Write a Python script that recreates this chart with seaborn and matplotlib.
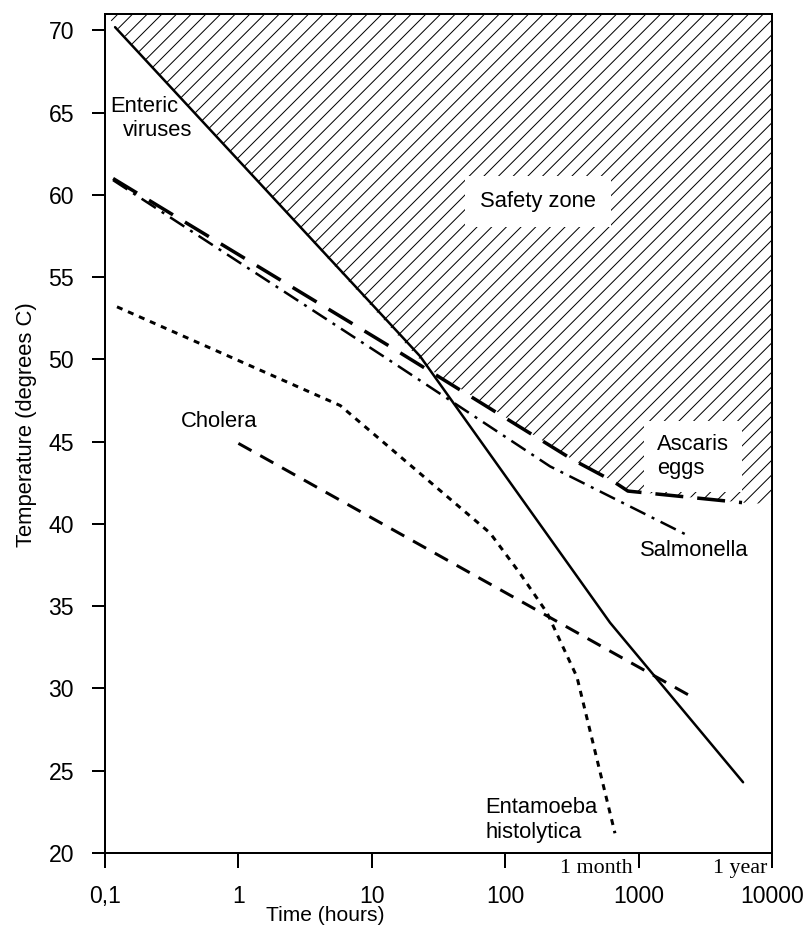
import numpy as np
import pandas as pd
import matplotlib.pyplot as plt
import seaborn as sns

DPI = 132
PT = 72 / DPI  # points per pixel

# values: time (hours) and temperature (degrees C)
enteric_t = [0.119, 23, 611, 6070]
enteric_c = [70.2, 50.2, 34.0, 24.3]
ascaris_t = [0.115, 13, 322, 643, 832, 5960]
ascaris_c = [61.0, 50.9, 43.9, 42.6, 42.0, 41.3]
salmonella_t = [0.115, 13, 217, 2340]
salmonella_c = [60.9, 50.05, 43.5, 39.3]
entamoeba_t = [0.123, 5.8, 77, 129, 206, 345, 665]
entamoeba_c = [53.2, 47.2, 39.45, 37.0, 34.6, 30.7, 21.2]
cholera_t = [1.0, 2500]
cholera_c = [44.9, 29.5]

# lower edge of the hatched safety zone
zone_t = [0.1, 26, 322, 643, 832, 5960, 10000]
zone_c = [71.0, 49.5, 43.9, 42.6, 42.0, 41.3, 41.2]

x_ticks = [0.1, 1, 10, 100, 1000, 10000]
x_labels = ['0,1', '1', '10', '100', '1000', '10000']
y_ticks = list(range(20, 75, 5))

sns.set_style('ticks')
plt.rcParams['font.family'] = ['Liberation Sans', 'DejaVu Sans']
plt.rcParams['text.color'] = 'black'
plt.rcParams['axes.labelcolor'] = 'black'
plt.rcParams['xtick.color'] = 'black'
plt.rcParams['ytick.color'] = 'black'
plt.rcParams['lines.scale_dashes'] = False
plt.rcParams['hatch.linewidth'] = 1.0 * PT
plt.rcParams['hatch.color'] = 'black'

fig = plt.figure(figsize=(810 / DPI, 928 / DPI), dpi=DPI)
ax = fig.add_axes([105 / 810, 1 - 853 / 928, 667 / 810, 839 / 928])
ax.set_xscale('log')

ax.fill_between(zone_t, zone_c, 71, facecolor='none', edgecolor='black',
                hatch='///', linewidth=0, zorder=0.5)

# (name, x, y, line width px, dash pattern px)
series = [
    ('Enteric viruses', enteric_t, enteric_c, 2.5, None),
    ('Ascaris eggs', ascaris_t, ascaris_c, 3.5, (28, 14)),
    ('Salmonella', salmonella_t, salmonella_c, 2.5, (17, 7, 3, 7)),
    ('Entamoeba histolytica', entamoeba_t, entamoeba_c, 3.0, (6, 6)),
    ('Cholera', cholera_t, cholera_c, 3.0, (15, 10)),
]
for name, t, c, lw, dash in series:
    ls = '-' if dash is None else (0, tuple(d * PT for d in dash))
    sns.lineplot(x=t, y=c, ax=ax, color='black', linewidth=lw * PT,
                 linestyle=ls, estimator=None, sort=False, zorder=2)

ax.set_xlim(0.1, 10000)
ax.set_ylim(20, 71)
ax.set_xticks(x_ticks)
ax.set_xticklabels(x_labels)
ax.set_yticks(y_ticks)
ax.minorticks_off()

for s in ax.spines.values():
    s.set_linewidth(2 * PT)
    s.set_color('black')
ax.tick_params(axis='x', length=15 * PT, width=2 * PT, pad=17 * PT,
               labelsize=23 * PT, colors='black')
ax.tick_params(axis='y', length=13 * PT, width=2 * PT, pad=18 * PT,
               labelsize=23 * PT, colors='black')

ax.set_xlabel('Time (hours)', fontsize=21 * PT)
ax.set_ylabel('Temperature (degrees C)', fontsize=22 * PT)
ax.xaxis.set_label_coords(0.33, -0.063)
ax.yaxis.set_label_coords(-0.102, 0.51)

fs = 22 * PT
ax.text(0.109, 65.4, 'Enteric', fontsize=fs, va='center', zorder=3)
ax.text(0.1365, 63.9, 'viruses', fontsize=fs, va='center', zorder=3)
ax.text(176, 59.6, 'Safety zone', fontsize=fs, ha='center', va='center', zorder=3,
        bbox=dict(boxstyle='square,pad=0.7', facecolor='white', edgecolor='none'))
ax.text(1374, 44.1, 'Ascaris\neggs', fontsize=fs, va='center', zorder=3,
        bbox=dict(boxstyle='square,pad=0.6', facecolor='white', edgecolor='none'))
ax.text(1023, 38.4, 'Salmonella', fontsize=fs, va='center', zorder=3)
ax.text(0.371, 46.2, 'Cholera', fontsize=fs, va='center', zorder=3)
ax.text(70.6, 22.0, 'Entamoeba\nhistolytica', fontsize=fs, va='center', zorder=3)

trans = ax.get_xaxis_transform()
ax.text(908, -0.019, '1 month', transform=trans, ha='right', va='center',
        fontsize=fs, family='Liberation Serif', clip_on=False)
ax.text(9180, -0.019, '1 year', transform=trans, ha='right', va='center',
        fontsize=fs, family='Liberation Serif', clip_on=False)

fig.savefig('out.png', dpi=DPI)
